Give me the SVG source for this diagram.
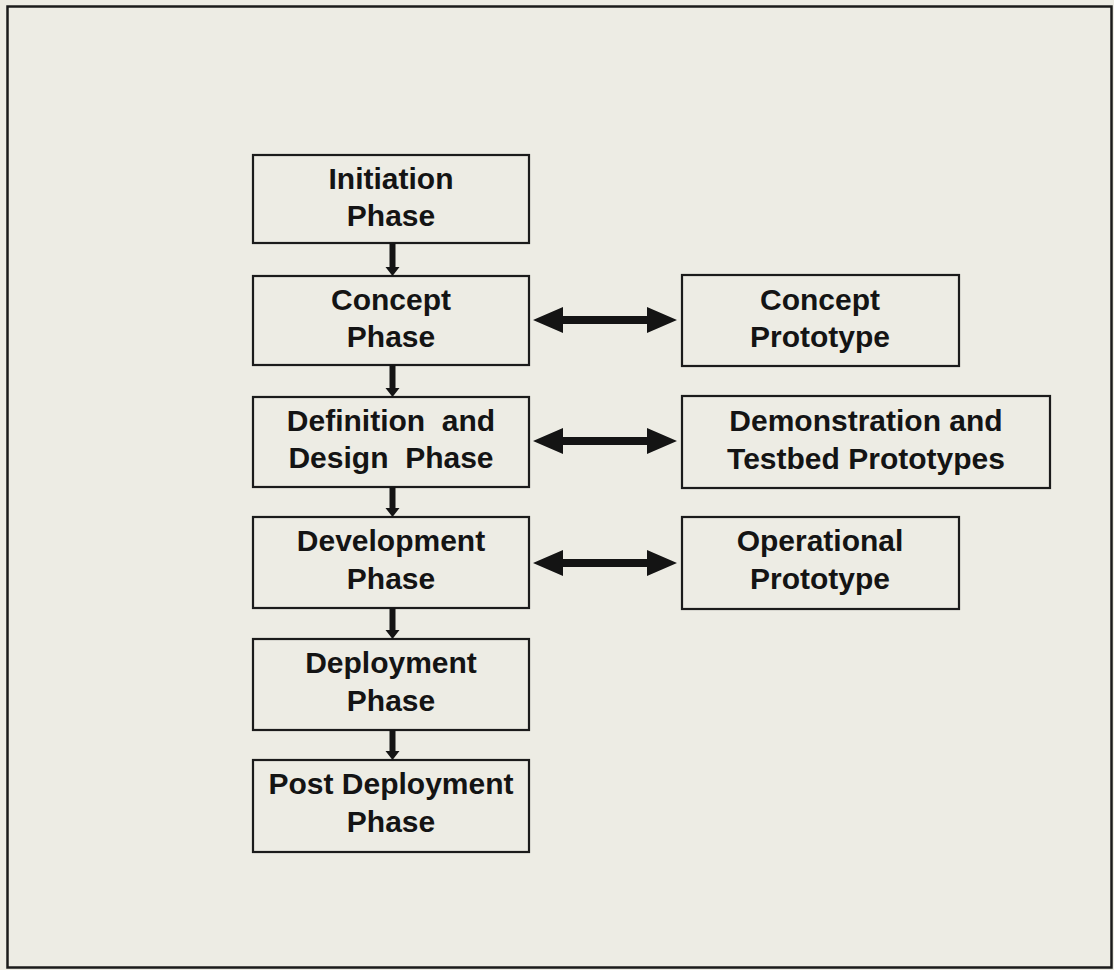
<svg xmlns="http://www.w3.org/2000/svg" width="1114" height="970" viewBox="0 0 1114 970">
<defs>
<style>
.box{fill:none;stroke:#1b1b1b;stroke-width:2.2}
.t{font-family:"Liberation Sans",Arial,sans-serif;font-weight:bold;font-size:30px;fill:#141414;text-anchor:middle}
.conn{fill:#141414;stroke:none}
</style>
</defs>
<rect x="0" y="0" width="1114" height="970" fill="#edece4"/>
<rect x="7.5" y="6.5" width="1104" height="961" fill="none" stroke="#1b1b1b" stroke-width="2.5"/>
<g id="initiation"><rect class="box" x="253" y="155" width="276" height="88"/><text class="t" x="391" y="189">Initiation</text><text class="t" x="391" y="226">Phase</text></g>
<g id="concept"><rect class="box" x="253" y="276" width="276" height="89"/><text class="t" x="391" y="310">Concept</text><text class="t" x="391" y="347">Phase</text></g>
<g id="definition"><rect class="box" x="253" y="397" width="276" height="90"/><text class="t" x="391" y="431" xml:space="preserve">Definition  and</text><text class="t" x="391" y="468" xml:space="preserve">Design  Phase</text></g>
<g id="development"><rect class="box" x="253" y="517" width="276" height="91"/><text class="t" x="391" y="551">Development</text><text class="t" x="391" y="589">Phase</text></g>
<g id="deployment"><rect class="box" x="253" y="639" width="276" height="91"/><text class="t" x="391" y="673">Deployment</text><text class="t" x="391" y="711">Phase</text></g>
<g id="post"><rect class="box" x="253" y="760" width="276" height="92"/><text class="t" x="391" y="794">Post Deployment</text><text class="t" x="391" y="832">Phase</text></g>
<g id="conceptProto"><rect class="box" x="682" y="275" width="277" height="91"/><text class="t" x="820" y="310">Concept</text><text class="t" x="820" y="347">Prototype</text></g>
<g id="demoProto"><rect class="box" x="682" y="396" width="368" height="92"/><text class="t" x="866" y="431">Demonstration and</text><text class="t" x="866" y="469">Testbed Prototypes</text></g>
<g id="opProto"><rect class="box" x="682" y="517" width="277" height="92"/><text class="t" x="820" y="551">Operational</text><text class="t" x="820" y="589">Prototype</text></g>
<g id="connectors">
<path class="conn" d="M389.5 243 h6 v24 h4 l-7 9 l-7 -9 h4 z"/>
<path class="conn" d="M389.5 365 h6 v23 h4 l-7 9 l-7 -9 h4 z"/>
<path class="conn" d="M389.5 487 h6 v21 h4 l-7 9 l-7 -9 h4 z"/>
<path class="conn" d="M389.5 608 h6 v22 h4 l-7 9 l-7 -9 h4 z"/>
<path class="conn" d="M389.5 730 h6 v21 h4 l-7 9 l-7 -9 h4 z"/>
<path class="conn" d="M533 320 l30 -13 v9 h84 v-9 l30 13 l-30 13 v-9 h-84 v9 z"/>
<path class="conn" d="M533 441 l30 -13 v9 h84 v-9 l30 13 l-30 13 v-9 h-84 v9 z"/>
<path class="conn" d="M533 563 l30 -13 v9 h84 v-9 l30 13 l-30 13 v-9 h-84 v9 z"/>
</g>
</svg>
